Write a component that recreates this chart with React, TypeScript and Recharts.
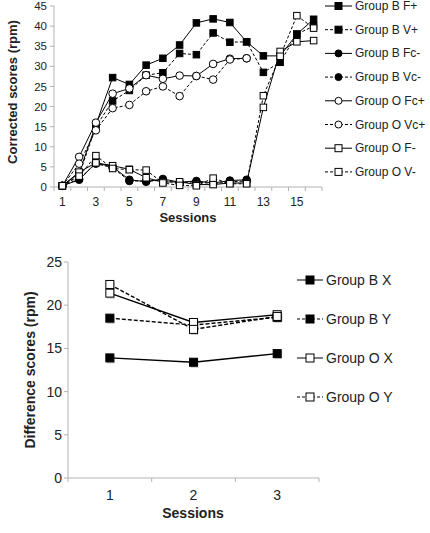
import React from 'react';
import { LineChart, Line, XAxis, YAxis } from 'recharts';

const FONT = '"Liberation Sans", Arial, Helvetica, sans-serif';
const AXIS_GREY = '#b3b3b3';
const TEXT = '#222';

// ---- top chart data (corrected scores, sessions 1-16) ----
const topSessions = [1, 2, 3, 4, 5, 6, 7, 8, 9, 10, 11, 12, 13, 14, 15, 16];
const topSessionLabels = [1, 3, 5, 7, 9, 11, 13, 15];
const topYTicks = [0, 5, 10, 15, 20, 25, 30, 35, 40, 45];

const groupBFPlus = [0.3, 3.5, 15.5, 27.2, 25.5, 30.3, 32.0, 35.3, 40.8, 41.8, 40.9, 36.1, 32.6, 32.6, 38.0, 41.7];
const groupBVPlus = [0.3, 3.0, 15.0, 21.4, 24.0, 27.8, 28.4, 33.2, 32.9, 38.3, 36.0, 36.1, 28.5, 31.0, 38.0, 40.0];
const groupBFcMinus = [0.3, 1.8, 6.0, 5.0, 1.8, 1.3, 2.0, 1.2, 1.5, 1.0, 1.6, 1.8];
const groupBVcMinus = [0.3, 2.0, 5.8, 4.8, 1.5, 1.5, 1.6, 1.0, 1.3, 0.8, 1.3, 1.5];
const groupOFcPlus = [0.3, 7.5, 16.0, 23.2, 24.5, 27.8, 26.9, 27.7, 27.6, 30.6, 31.9, 32.0];
const groupOVcPlus = [0.3, 5.8, 14.1, 19.6, 20.4, 23.8, 25.0, 22.6, 27.6, 26.7, 31.7, 32.0];
const groupOFMinus = [0.3, 3.7, 6.0, 5.3, 4.4, 2.3, 1.2, 1.3, 0.6, 0.6, 1.0, 1.0, 19.8, 33.7, 36.1, 36.4];
const groupOVMinus = [0.3, 2.7, 7.8, 4.6, 4.3, 4.2, 1.0, 0.4, 0.3, 2.2, 0.8, 0.8, 22.7, 32.5, 42.6, 39.5];

// ---- bottom chart data (difference scores, sessions 1-3) ----
const bottomSessions = [1, 2, 3];
const bottomYTicks = [0, 5, 10, 15, 20, 25];
const groupBX = [13.9, 13.4, 14.4];
const groupBY = [18.5, 17.7, 18.6];
const groupOX = [21.4, 18.0, 18.9];
const groupOY = [22.4, 17.2, 18.7];

type Series = {
  key: string;
  name: string;
  values: number[];
  shape: 'square' | 'circle';
  filled: boolean;
  dashed: boolean;
};

const topSeries: Series[] = [
  { key: 'bFp', name: 'Group B F+', values: groupBFPlus, shape: 'square', filled: true, dashed: false },
  { key: 'bVp', name: 'Group B V+', values: groupBVPlus, shape: 'square', filled: true, dashed: true },
  { key: 'bFcm', name: 'Group B Fc-', values: groupBFcMinus, shape: 'circle', filled: true, dashed: false },
  { key: 'bVcm', name: 'Group B Vc-', values: groupBVcMinus, shape: 'circle', filled: true, dashed: true },
  { key: 'oFcp', name: 'Group O Fc+', values: groupOFcPlus, shape: 'circle', filled: false, dashed: false },
  { key: 'oVcp', name: 'Group O Vc+', values: groupOVcPlus, shape: 'circle', filled: false, dashed: true },
  { key: 'oFm', name: 'Group O F-', values: groupOFMinus, shape: 'square', filled: false, dashed: false },
  { key: 'oVm', name: 'Group O V-', values: groupOVMinus, shape: 'square', filled: false, dashed: true },
];

const bottomSeries: Series[] = [
  { key: 'bX', name: 'Group B X', values: groupBX, shape: 'square', filled: true, dashed: false },
  { key: 'bY', name: 'Group B Y', values: groupBY, shape: 'square', filled: true, dashed: true },
  { key: 'oX', name: 'Group O X', values: groupOX, shape: 'square', filled: false, dashed: false },
  { key: 'oY', name: 'Group O Y', values: groupOY, shape: 'square', filled: false, dashed: true },
];

const buildRows = (sessions: number[], series: Series[]) =>
  sessions.map((s, i) => {
    const row: Record<string, number | null> = { session: s };
    series.forEach(ser => {
      row[ser.key] = ser.values[i] ?? null;
    });
    return row;
  });

const topData = buildRows(topSessions, topSeries);
const bottomData = buildRows(bottomSessions, bottomSeries);

// tick marks sit between sessions, labels on the sessions
const boundaryTicks = (sessions: number[]) => [
  ...sessions.flatMap(s => [s - 0.5, s]),
  sessions[sessions.length - 1] + 0.5,
];

const Marker = ({ cx, cy, shape, filled, size, shadow }: any) => {
  const fill = filled ? '#000' : '#fff';
  if (shape === 'circle') {
    return <circle cx={cx} cy={cy} r={size / 2} fill={fill} stroke="#000" strokeWidth={1} />;
  }
  return (
    <g>
      {shadow && (
        <rect x={cx - size / 2 + 1} y={cy - size / 2 + 1.5} width={size} height={size} fill="rgba(0,0,0,0.22)" />
      )}
      <rect x={cx - size / 2} y={cy - size / 2} width={size} height={size} fill={fill} stroke="#000" strokeWidth={1} />
    </g>
  );
};

const makeDot = (ser: Series, size: number, shadow = false) => (props: any) => {
  const { cx, cy, index } = props;
  if (cx == null || cy == null || Number.isNaN(cy)) return <g key={`${ser.key}-${index}`} />;
  return (
    <g key={`${ser.key}-${index}`}>
      <Marker cx={cx} cy={cy} shape={ser.shape} filled={ser.filled} size={size} shadow={shadow} />
    </g>
  );
};

const makeXTick = (labels: number[], fontSize: number, labelDy: number) => (props: any) => {
  const { x, y, payload } = props;
  const v = payload.value;
  if (!Number.isInteger(v)) {
    return <line x1={x} x2={x} y1={y} y2={y + 4} stroke={AXIS_GREY} />;
  }
  if (!labels.includes(v)) return <g />;
  return (
    <text x={x} y={y + labelDy} textAnchor="middle" dominantBaseline="central" fontSize={fontSize} fontFamily={FONT} fill={TEXT}>
      {v}
    </text>
  );
};

const Legend = ({ series, left, top, rowGap, fontSize, size, lineLen }: any) => (
  <svg width={132} height={rowGap * series.length + 20} style={{ position: 'absolute', left, top: top - 10 }}>
    {series.map((ser: Series, i: number) => {
      const cy = 10 + i * rowGap;
      return (
        <g key={ser.key}>
          <line x1={0} x2={lineLen} y1={cy} y2={cy} stroke="#000" strokeWidth={1} strokeDasharray={ser.dashed ? '3 2' : undefined} />
          <Marker cx={lineLen / 2} cy={cy} shape={ser.shape} filled={ser.filled} size={size} />
          <text x={lineLen + 3} y={cy} dominantBaseline="central" fontSize={fontSize} fontFamily={FONT} fill={TEXT}>
            {ser.name}
          </text>
        </g>
      );
    })}
  </svg>
);

export default function App() {
  return (
    <div style={{ position: 'absolute', left: 0, top: 0, width: 430, height: 533, background: '#fff' }}>
      {/* top chart */}
      <div style={{ position: 'absolute', left: 0, top: 0 }}>
        <LineChart width={430} height={230} data={topData} margin={{ top: 6, right: 108, bottom: 0, left: 0 }}>
          <XAxis
            dataKey="session"
            type="number"
            domain={[0.5, 16.5]}
            ticks={boundaryTicks(topSessions)}
            interval={0}
            tickLine={false}
            tickSize={0}
            tickMargin={0}
            height={43}
            stroke={AXIS_GREY}
            tick={makeXTick(topSessionLabels, 12, 15)}
            label={{
              content: () => (
                <text x={188} y={217} textAnchor="middle" dominantBaseline="central" fontSize={13} fontWeight="bold" fontFamily={FONT} fill={TEXT}>
                  Sessions
                </text>
              ),
            }}
          />
          <YAxis
            type="number"
            domain={[0, 45]}
            ticks={topYTicks}
            interval={0}
            width={54}
            stroke={AXIS_GREY}
            tickSize={4}
            tickMargin={3}
            tick={{ fontSize: 11.5, fontFamily: FONT, fill: TEXT }}
            label={{
              content: () => (
                <text x={12} y={92} transform="rotate(-90 12 92)" textAnchor="middle" dominantBaseline="central" fontSize={13} fontWeight="bold" fontFamily={FONT} fill={TEXT}>
                  Corrected scores (rpm)
                </text>
              ),
            }}
          />
          {topSeries.map(ser => (
            <Line
              key={ser.key}
              dataKey={ser.key}
              name={ser.name}
              type="linear"
              stroke="#000"
              strokeWidth={1}
              strokeDasharray={ser.dashed ? '3 2' : undefined}
              dot={makeDot(ser, ser.shape === 'square' ? 6.5 : 7.6)}
              activeDot={false}
              isAnimationActive={false}
            />
          ))}
        </LineChart>
      </div>
      <Legend series={topSeries} left={325} top={6} rowGap={23.7} fontSize={12} size={7} lineLen={27} />

      {/* bottom chart */}
      <div style={{ position: 'absolute', left: 0, top: 240 }}>
        <LineChart width={430} height={293} data={bottomData} margin={{ top: 22, right: 111, bottom: 0, left: 0 }}>
          <XAxis
            dataKey="session"
            type="number"
            domain={[0.5, 3.5]}
            ticks={boundaryTicks(bottomSessions)}
            interval={0}
            tickLine={false}
            tickSize={0}
            tickMargin={0}
            height={55}
            stroke={AXIS_GREY}
            tick={makeXTick(bottomSessions, 14, 17)}
            label={{
              content: () => (
                <text x={193} y={273} textAnchor="middle" dominantBaseline="central" fontSize={14} fontWeight="bold" fontFamily={FONT} fill={TEXT}>
                  Sessions
                </text>
              ),
            }}
          />
          <YAxis
            type="number"
            domain={[0, 25]}
            ticks={bottomYTicks}
            interval={0}
            width={68}
            stroke={AXIS_GREY}
            tickSize={4}
            tickMargin={2}
            tick={{ fontSize: 14, fontFamily: FONT, fill: TEXT }}
            label={{
              content: () => (
                <text x={30} y={130} transform="rotate(-90 30 130)" textAnchor="middle" dominantBaseline="central" fontSize={14} fontWeight="bold" fontFamily={FONT} fill={TEXT}>
                  Difference scores (rpm)
                </text>
              ),
            }}
          />
          {bottomSeries.map(ser => (
            <Line
              key={ser.key}
              dataKey={ser.key}
              name={ser.name}
              type="linear"
              stroke="#000"
              strokeWidth={1.4}
              strokeDasharray={ser.dashed ? '4 2' : undefined}
              dot={makeDot(ser, 8, true)}
              activeDot={false}
              isAnimationActive={false}
            />
          ))}
        </LineChart>
      </div>
      <Legend series={bottomSeries} left={297} top={280} rowGap={39} fontSize={14} size={8} lineLen={26} />
    </div>
  );
}
